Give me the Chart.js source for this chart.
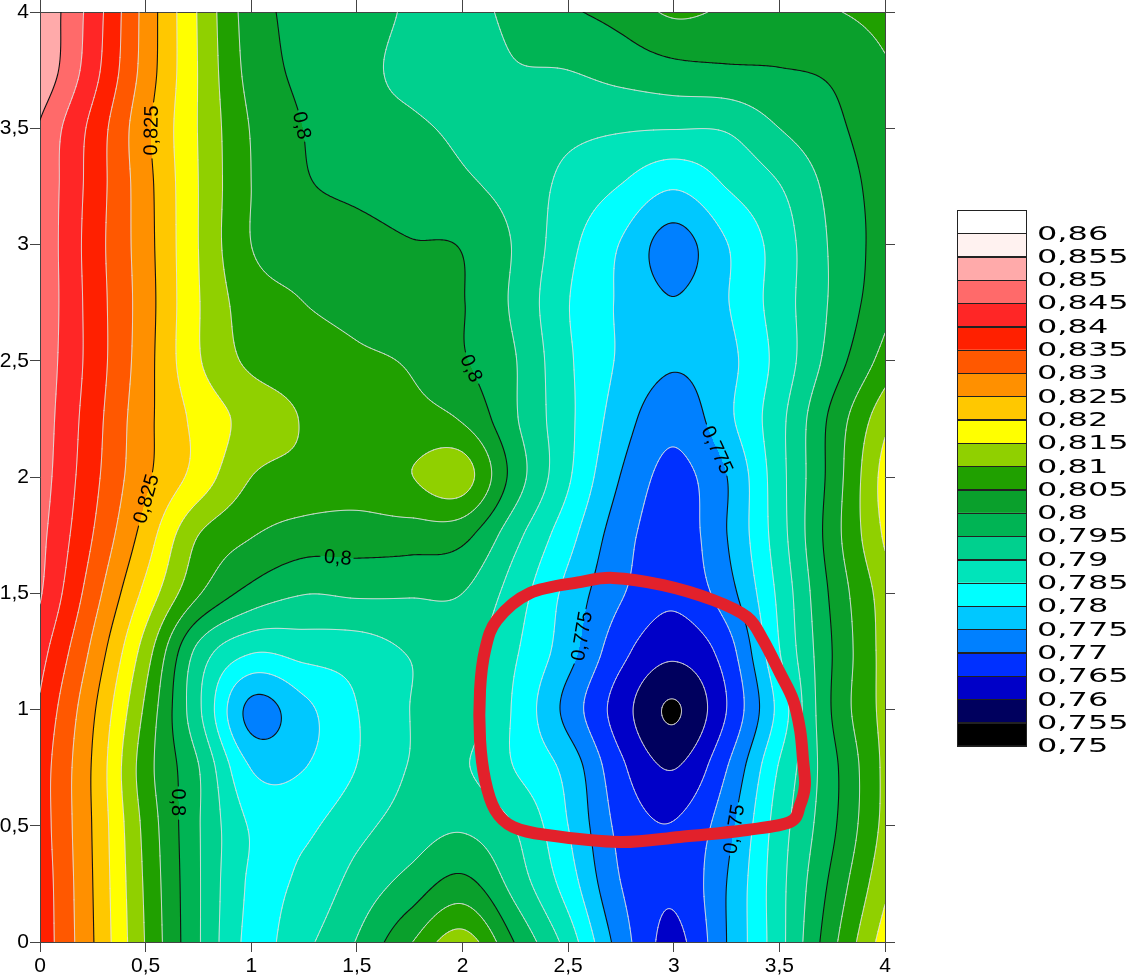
<!DOCTYPE html>
<html>
<head>
<meta charset="utf-8">
<script src="https://cdn.jsdelivr.net/npm/chart.js@4.4.1/dist/chart.umd.min.js"></script>
<style>
html,body{margin:0;padding:0;background:#ffffff;}
#wrap{width:1133px;height:980px;position:relative;}
canvas{display:block;}
</style>
</head>
<body>
<div id="wrap"><canvas id="c" width="1133" height="980"></canvas></div>
<script>
// ---------------- DATA ----------------
const xValues = [0, 0.25, 0.5, 0.75, 1, 1.25, 1.5, 1.75, 2, 2.25, 2.5, 2.75, 3, 3.25, 3.5, 3.75, 4];
const yValues = [4, 3.75, 3.5, 3.25, 3, 2.75, 2.5, 2.25, 2, 1.75, 1.5, 1.25, 1, 0.75, 0.5, 0.25, 0];

const z_y4_00 = [0.8545, 0.8428, 0.8282, 0.8146, 0.8026, 0.7985, 0.7970, 0.7945, 0.7935, 0.7963, 0.7993, 0.8018, 0.8058, 0.8043, 0.8035, 0.8047, 0.8065];
const z_y3_75 = [0.8543, 0.8419, 0.8279, 0.8148, 0.8033, 0.7988, 0.7962, 0.7940, 0.7928, 0.7947, 0.7950, 0.7968, 0.7985, 0.7993, 0.7998, 0.8008, 0.8045];
const z_y3_50 = [0.8495, 0.8385, 0.8262, 0.8148, 0.8047, 0.7999, 0.7967, 0.7957, 0.7942, 0.7928, 0.7913, 0.7905, 0.7902, 0.7905, 0.7950, 0.7987, 0.8035];
const z_y3_25 = [0.8490, 0.8380, 0.8268, 0.8150, 0.8050, 0.8006, 0.7988, 0.7972, 0.7958, 0.7932, 0.7885, 0.7848, 0.7805, 0.7852, 0.7898, 0.7966, 0.8025];
const z_y3_00 = [0.8490, 0.8376, 0.8270, 0.8150, 0.8050, 0.8035, 0.8020, 0.8003, 0.7997, 0.7945, 0.7865, 0.7797, 0.7730, 0.7798, 0.7873, 0.7957, 0.8023];
const z_y2_75 = [0.8490, 0.8379, 0.8273, 0.8153, 0.8073, 0.8050, 0.8035, 0.8020, 0.8002, 0.7940, 0.7852, 0.7793, 0.7752, 0.7797, 0.7875, 0.7957, 0.8035];
const z_y2_50 = [0.8485, 0.8380, 0.8270, 0.8155, 0.8090, 0.8075, 0.8058, 0.8045, 0.8005, 0.7952, 0.7858, 0.7793, 0.7755, 0.7785, 0.7868, 0.7972, 0.8070];
const z_y2_25 = [0.8480, 0.8372, 0.8265, 0.8185, 0.8132, 0.8097, 0.8078, 0.8066, 0.8045, 0.7955, 0.7862, 0.7774, 0.7717, 0.7787, 0.7885, 0.8013, 0.8135];
const z_y2_00 = [0.8475, 0.8365, 0.8260, 0.8180, 0.8100, 0.8085, 0.8075, 0.8098, 0.8122, 0.7977, 0.7857, 0.7748, 0.7685, 0.7749, 0.7882, 0.8019, 0.8170];
const z_y1_75 = [0.8465, 0.8350, 0.8228, 0.8100, 0.8053, 0.8028, 0.8025, 0.8025, 0.8015, 0.7915, 0.7818, 0.7722, 0.7672, 0.7749, 0.7878, 0.8026, 0.8158];
const z_y1_50 = [0.8455, 0.8323, 0.8185, 0.8055, 0.7983, 0.7952, 0.7957, 0.7955, 0.7950, 0.7875, 0.7785, 0.7705, 0.7662, 0.7728, 0.7862, 0.8010, 0.8125];
const z_y1_25 = [0.8420, 0.8288, 0.8125, 0.7935, 0.7855, 0.7868, 0.7875, 0.7903, 0.7918, 0.7855, 0.7770, 0.7665, 0.7612, 0.7675, 0.7848, 0.8000, 0.8120];
const z_y1_00 = [0.8393, 0.8258, 0.8090, 0.7910, 0.7736, 0.7787, 0.7849, 0.7900, 0.7925, 0.7842, 0.7733, 0.7624, 0.7545, 0.7650, 0.7817, 0.8003, 0.8118];
const z_y0_75 = [0.8377, 0.8245, 0.8072, 0.7952, 0.7798, 0.7799, 0.7851, 0.7902, 0.7905, 0.7848, 0.7783, 0.7660, 0.7598, 0.7698, 0.7855, 0.7985, 0.8112];
const z_y0_50 = [0.8377, 0.8247, 0.8085, 0.7954, 0.7845, 0.7840, 0.7885, 0.7922, 0.7943, 0.7898, 0.7800, 0.7685, 0.7653, 0.7732, 0.7875, 0.7990, 0.8115];
const z_y0_25 = [0.8383, 0.8250, 0.8092, 0.7955, 0.7843, 0.7862, 0.7918, 0.7968, 0.8015, 0.7930, 0.7826, 0.7700, 0.7658, 0.7750, 0.7883, 0.8012, 0.8138];
const z_y0_00 = [0.8385, 0.8253, 0.8097, 0.7955, 0.7838, 0.7888, 0.7953, 0.8045, 0.8125, 0.7997, 0.7879, 0.7726, 0.7637, 0.7750, 0.7883, 0.8035, 0.8175];

// rows in the same order as yValues (top first)
const zRows = [z_y4_00, z_y3_75, z_y3_50, z_y3_25, z_y3_00, z_y2_75, z_y2_50, z_y2_25, z_y2_00,
               z_y1_75, z_y1_50, z_y1_25, z_y1_00, z_y0_75, z_y0_50, z_y0_25, z_y0_00];

// contour levels (every 0.005 from 0.75 to 0.86); bands coloured from low to high
const levelMin = 0.75;
const levelStep = 0.005;
const levelCount = 23;
const bandColors = ['#000000','#00005E','#0000C8','#0030FF','#0080FF','#00C8FF','#00FFFF','#00E4BA',
                    '#00D08E','#00B454','#0AA02C','#20A000','#90D000','#FFFF00','#FFC800','#FF9000',
                    '#FF5800','#FF2000','#FF2626','#FF6A6A','#FFAAAA','#FFF2F0','#FFFFFF'];
const legendLabels = ['0,86','0,855','0,85','0,845','0,84','0,835','0,83','0,825','0,82','0,815','0,81','0,805',
                      '0,8','0,795','0,79','0,785','0,78','0,775','0,77','0,765','0,76','0,755','0,75'];

// contour labels (level, approximate location)
const contourLabelLevels = [0.825, 0.825, 0.8, 0.8, 0.8, 0.8, 0.775, 0.775, 0.775];
const contourLabelX      = [0.54, 0.525, 1.23, 2.08, 1.41, 0.625, 3.19, 2.53, 3.33];
const contourLabelY      = [3.49, 1.90, 3.51, 2.48, 1.655, 0.60, 2.11, 1.32, 0.48];

// hand-drawn red annotation loop (data units)
const annotationX = [2.712, 2.949, 3.186, 3.347, 3.423, 3.503, 3.565, 3.598, 3.612, 3.621, 3.598, 3.550, 3.347, 3.030, 2.746, 2.400, 2.239, 2.154, 2.107, 2.083, 2.083, 2.107, 2.163, 2.320, 2.556];
const annotationY = [1.566, 1.535, 1.471, 1.398, 1.299, 1.157, 1.041, 0.912, 0.783, 0.675, 0.589, 0.516, 0.482, 0.452, 0.430, 0.460, 0.495, 0.568, 0.697, 0.869, 1.084, 1.256, 1.385, 1.501, 1.548];

// ---------------- FIELD (bicubic Catmull-Rom through the grid) ----------------
const NX = xValues.length, NY = yValues.length;
const yAsc = yValues.slice().reverse();
const gridAsc = zRows.slice().reverse(); // j = 0 at lowest y
const PW = NX + 2, PH = NY + 2;
const padded = new Float64Array(PW * PH);
(function buildPadded(){
  function g(i, j){
    if (i < 0) return 2*g(0,j) - g(1,j);
    if (i > NX-1) return 2*g(NX-1,j) - g(NX-2,j);
    if (j < 0) return 2*g(i,0) - g(i,1);
    if (j > NY-1) return 2*g(i,NY-1) - g(i,NY-2);
    return gridAsc[j][i];
  }
  for (let j = -1; j <= NY; j++) for (let i = -1; i <= NX; i++) padded[(j+1)*PW + (i+1)] = g(i, j);
})();
const sx = xValues[1] - xValues[0], sy = yAsc[1] - yAsc[0];
function cr(p0, p1, p2, p3, t){
  return 0.5*((2*p1) + (-p0+p2)*t + (2*p0-5*p1+4*p2-p3)*t*t + (-p0+3*p1-3*p2+p3)*t*t*t);
}
function field(x, y){
  const u = (x - xValues[0]) / sx, v = (y - yAsc[0]) / sy;
  let i = Math.floor(u), j = Math.floor(v);
  if (i < 0) i = 0; if (i > NX-2) i = NX-2;
  if (j < 0) j = 0; if (j > NY-2) j = NY-2;
  const t = u - i, s = v - j;
  const r = [0,0,0,0];
  for (let m = 0; m < 4; m++){
    const base = (j + m) * PW + i;
    r[m] = cr(padded[base], padded[base+1], padded[base+2], padded[base+3], t);
  }
  return cr(r[0], r[1], r[2], r[3], s);
}
const bandRGB = bandColors.map(h => [parseInt(h.slice(1,3),16), parseInt(h.slice(3,5),16), parseInt(h.slice(5,7),16)]);
function bandIndex(z){
  let k = Math.floor((z - levelMin) / levelStep + 1e-9);
  if (k < 0) k = 0; if (k > levelCount-1) k = levelCount-1;
  return k;
}
const fmt = v => String(Math.round(v * 1000) / 1000).replace('.', ',');

// ---------------- PLUGIN ----------------
const AXIS_FONT = '"Liberation Sans", Arial, sans-serif';
const LABEL_FONT = '"Liberation Sans", Arial, sans-serif';

const contourPlugin = {
  id: 'contourPlot',
  beforeDraw(chart){
    const ctx = chart.ctx, a = chart.chartArea, xs = chart.scales.x, ys = chart.scales.y;
    const dpr = chart.currentDevicePixelRatio || 1;
    const W = Math.round((a.right - a.left) * dpr), H = Math.round((a.bottom - a.top) * dpr);
    const off = document.createElement('canvas'); off.width = W; off.height = H;
    const octx = off.getContext('2d');
    const img = octx.createImageData(W, H), d = img.data;
    const colX = new Float64Array(W);
    for (let i = 0; i < W; i++) colX[i] = xs.getValueForPixel(a.left + (i + 0.5) / dpr);
    for (let j = 0; j < H; j++){
      const yv = ys.getValueForPixel(a.top + (j + 0.5) / dpr);
      for (let i = 0; i < W; i++){
        const c = bandRGB[bandIndex(field(colX[i], yv))];
        const k = (j * W + i) * 4;
        d[k] = c[0]; d[k+1] = c[1]; d[k+2] = c[2]; d[k+3] = 255;
      }
    }
    octx.putImageData(img, 0, 0);
    ctx.save();
    ctx.imageSmoothingEnabled = false;
    ctx.drawImage(off, a.left, a.top, a.right - a.left, a.bottom - a.top);
    ctx.restore();
  },
  afterDatasetsDraw(chart){
    const ctx = chart.ctx, a = chart.chartArea, xs = chart.scales.x, ys = chart.scales.y;
    const fpx = (px, py) => field(xs.getValueForPixel(px), ys.getValueForPixel(py));

    // --- label placement, snapped onto the contour
    ctx.save();
    ctx.font = '20px ' + LABEL_FONT;
    const labels = [];
    for (let n = 0; n < contourLabelLevels.length; n++){
      const L = contourLabelLevels[n];
      let px = xs.getPixelForValue(contourLabelX[n]), py = ys.getPixelForValue(contourLabelY[n]);
      let gx = 0, gy = 0;
      for (let it = 0; it < 10; it++){
        const f = fpx(px, py) - L;
        gx = (fpx(px+1, py) - fpx(px-1, py)) / 2;
        gy = (fpx(px, py+1) - fpx(px, py-1)) / 2;
        const g2 = gx*gx + gy*gy; if (g2 < 1e-16) break;
        let dx = -f*gx/g2, dy = -f*gy/g2;
        const len = Math.hypot(dx, dy); if (len > 8){ dx *= 8/len; dy *= 8/len; }
        px += dx; py += dy;
      }
      let ang = Math.atan2(gy, gx) + Math.PI/2;
      while (ang > Math.PI/2) ang -= Math.PI;
      while (ang <= -Math.PI/2) ang += Math.PI;
      const text = fmt(L);
      const w = ctx.measureText(text).width;
      labels.push({L, px, py, ang, text, hw: w/2 + 3, hh: 9});
    }
    ctx.restore();

    // --- sample field for contour lines
    const step = 2;
    const nx = Math.ceil((a.right - a.left) / step) + 1, ny = Math.ceil((a.bottom - a.top) / step) + 1;
    const PX = new Float64Array(nx), PY = new Float64Array(ny), XV = new Float64Array(nx);
    for (let i = 0; i < nx; i++){ PX[i] = Math.min(a.left + i*step, a.right); XV[i] = xs.getValueForPixel(PX[i]); }
    for (let j = 0; j < ny; j++) PY[j] = Math.min(a.top + j*step, a.bottom);
    const F = new Float64Array(nx*ny);
    for (let j = 0; j < ny; j++){ const yv = ys.getValueForPixel(PY[j]); for (let i = 0; i < nx; i++) F[j*nx+i] = field(XV[i], yv); }

    ctx.save();
    ctx.beginPath(); ctx.rect(a.left, a.top, a.right - a.left, a.bottom - a.top); ctx.clip();
    ctx.lineJoin = 'round'; ctx.lineCap = 'round';
    for (let k = 0; k < levelCount; k++){
      const L = levelMin + k*levelStep;
      const major = (k % 5 === 0);
      const myLabels = labels.filter(l => Math.abs(l.L - L) < 1e-9);
      ctx.beginPath();
      const seg = (x1, y1, x2, y2) => {
        if (myLabels.length){
          const mx = (x1+x2)/2, my = (y1+y2)/2;
          for (const l of myLabels){
            const dx = mx - l.px, dy = my - l.py, c = Math.cos(l.ang), s = Math.sin(l.ang);
            const lx = dx*c + dy*s, ly = -dx*s + dy*c;
            if (Math.abs(lx) < l.hw && Math.abs(ly) < l.hh) return;
          }
        }
        ctx.moveTo(x1, y1); ctx.lineTo(x2, y2);
      };
      for (let j = 0; j < ny-1; j++){
        const y0 = PY[j], y1 = PY[j+1];
        for (let i = 0; i < nx-1; i++){
          const A = F[j*nx+i], B = F[j*nx+i+1], C = F[(j+1)*nx+i+1], D = F[(j+1)*nx+i];
          const idx = (A > L ? 8 : 0) | (B > L ? 4 : 0) | (C > L ? 2 : 0) | (D > L ? 1 : 0);
          if (idx === 0 || idx === 15) continue;
          const x0 = PX[i], x1 = PX[i+1];
          const tX = x0 + (L-A)/(B-A)*(x1-x0), tY = y0;
          const rX = x1, rY = y0 + (L-B)/(C-B)*(y1-y0);
          const bX = x0 + (L-D)/(C-D)*(x1-x0), bY = y1;
          const lX = x0, lY = y0 + (L-A)/(D-A)*(y1-y0);
          switch (idx){
            case 1: case 14: seg(lX,lY,bX,bY); break;
            case 2: case 13: seg(bX,bY,rX,rY); break;
            case 3: case 12: seg(lX,lY,rX,rY); break;
            case 4: case 11: seg(tX,tY,rX,rY); break;
            case 6: case 9: seg(tX,tY,bX,bY); break;
            case 7: case 8: seg(lX,lY,tX,tY); break;
            case 5: { const cen = (A+B+C+D)/4;
              if (cen > L){ seg(lX,lY,tX,tY); seg(bX,bY,rX,rY); } else { seg(lX,lY,bX,bY); seg(tX,tY,rX,rY); } break; }
            case 10: { const cen = (A+B+C+D)/4;
              if (cen > L){ seg(tX,tY,rX,rY); seg(lX,lY,bX,bY); } else { seg(lX,lY,tX,tY); seg(bX,bY,rX,rY); } break; }
          }
        }
      }
      if (major){ ctx.strokeStyle = '#111111'; ctx.lineWidth = 1.1; }
      else { ctx.strokeStyle = 'rgba(225,225,225,0.8)'; ctx.lineWidth = 1; }
      ctx.stroke();
    }
    // labels
    ctx.fillStyle = '#000000';
    ctx.font = '20px ' + LABEL_FONT;
    ctx.textAlign = 'center'; ctx.textBaseline = 'middle';
    for (const l of labels){
      ctx.save(); ctx.translate(l.px, l.py); ctx.rotate(l.ang); ctx.fillText(l.text, 0, 1); ctx.restore();
    }
    ctx.restore();
  },
  afterDraw(chart){
    const ctx = chart.ctx, xs = chart.scales.x, ys = chart.scales.y;
    // red annotation loop
    const P = annotationX.map((x, i) => [xs.getPixelForValue(x), ys.getPixelForValue(annotationY[i])]);
    const n = P.length;
    ctx.save();
    ctx.strokeStyle = '#E2212B'; ctx.lineWidth = 12; ctx.lineJoin = 'round'; ctx.lineCap = 'round';
    ctx.beginPath(); ctx.moveTo(P[0][0], P[0][1]);
    for (let i = 0; i < n; i++){
      const p0 = P[(i-1+n)%n], p1 = P[i], p2 = P[(i+1)%n], p3 = P[(i+2)%n];
      ctx.bezierCurveTo(p1[0] + (p2[0]-p0[0])/6, p1[1] + (p2[1]-p0[1])/6,
                        p2[0] - (p3[0]-p1[0])/6, p2[1] - (p3[1]-p1[1])/6, p2[0], p2[1]);
    }
    ctx.closePath(); ctx.stroke();
    ctx.restore();

    // colour legend
    const bx = 957, bw = 69, by = 210, bh = 23.3;
    ctx.save();
    for (let i = 0; i < levelCount; i++){
      ctx.fillStyle = bandColors[levelCount - 1 - i];
      ctx.fillRect(bx, by + i*bh, bw, bh);
    }
    ctx.strokeStyle = '#222222'; ctx.lineWidth = 1;
    for (let i = 0; i < levelCount; i++){
      ctx.strokeRect(bx + 0.5, Math.round(by + i*bh) + 0.5, bw, Math.round(bh));
    }
    ctx.fillStyle = '#000000';
    ctx.font = '20px "DejaVu Sans", Verdana, sans-serif';
    ctx.textAlign = 'left'; ctx.textBaseline = 'middle';
    for (let i = 0; i < levelCount; i++){
      ctx.save();
      ctx.translate(1037, by + (i+1)*bh + 1);
      ctx.scale(1.6, 1);
      ctx.fillText(legendLabels[i], 0, 0);
      ctx.restore();
    }
    ctx.restore();
  }
};

// dataset carries the grid points (drawn through the plugin above)
const gridPoints = [];
yValues.forEach((y, r) => xValues.forEach((x, c) => gridPoints.push({x, y, v: zRows[r][c]})));

const tickFont = {family: AXIS_FONT, size: 21, lineHeight: 1};
const commonTicks = {stepSize: 0.5, autoSkip: false, maxRotation: 0, color: '#000000', font: tickFont, callback: v => fmt(v)};

new Chart(document.getElementById('c'), {
  type: 'scatter',
  data: { datasets: [{ data: gridPoints, pointRadius: 0, pointHoverRadius: 0, showLine: false }] },
  options: {
    responsive: false, maintainAspectRatio: false, animation: false, events: [],
    layout: { padding: 0 },
    plugins: { legend: {display: false}, tooltip: {enabled: false} },
    scales: {
      x: { type: 'linear', position: 'bottom', min: 0, max: 4,
           ticks: Object.assign({}, commonTicks, {padding: 4}),
           grid: { drawOnChartArea: false, tickLength: 10, color: '#444444' },
           border: { color: '#444444', width: 1 },
           afterFit: s => { s.height = 38; } },
      y: { type: 'linear', position: 'left', min: 0, max: 4,
           ticks: Object.assign({}, commonTicks, {padding: 1}),
           grid: { drawOnChartArea: false, tickLength: 10, color: '#444444' },
           border: { color: '#444444', width: 1 },
           afterFit: s => { s.width = 40; } },
      x2: { type: 'linear', position: 'top', min: 0, max: 4,
            ticks: { stepSize: 0.5, display: false },
            grid: { drawOnChartArea: false, tickLength: 12, color: '#444444' },
            border: { color: '#444444', width: 1 },
            afterFit: s => { s.height = 12; } },
      y2: { type: 'linear', position: 'right', min: 0, max: 4,
            ticks: { stepSize: 0.5, display: false },
            grid: { drawOnChartArea: false, tickLength: 10, color: '#444444' },
            border: { color: '#444444', width: 1 },
            afterFit: s => { s.width = 248; } }
    }
  },
  plugins: [contourPlugin]
});
</script>
</body>
</html>
